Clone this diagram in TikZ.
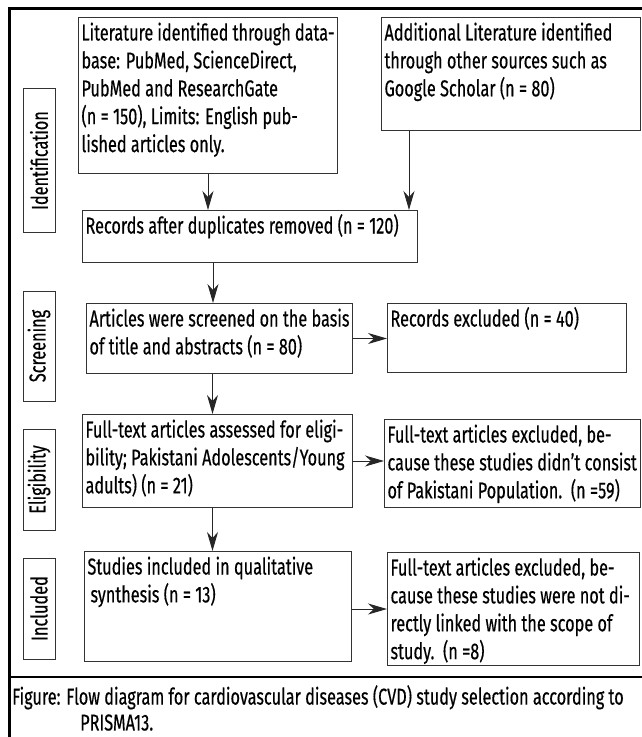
\documentclass[tikz,border=0pt]{standalone}
\usepackage{fontspec}
\setmainfont[FakeStretch=0.71, FakeBold=0.4]{Fira Sans}
\usetikzlibrary{arrows.meta, positioning}

% top aligned text inside a fixed box
\newcommand{\cell}[3]{\parbox[t][#2][t]{#1}{\raggedright\rule{0pt}{20bp}#3}}

\begin{document}
\begin{tikzpicture}[x=1bp, y=-1bp,
  every node/.style={font=\fontsize{23}{28}\selectfont},
  box/.style={draw=black!80, line width=1bp, anchor=north west, inner xsep=3bp, inner ysep=3bp},
  stage/.style={draw=black!80, line width=1bp, rotate=90, minimum height=32bp, inner sep=0pt},
  arr/.style={-{Stealth[length=19bp, width=11bp, inset=6bp]}, line width=1bp, black!85}]

\useasboundingbox (0,0) rectangle (642,737);

% Frame
\draw[line width=3bp] (9,745) -- (9,9) -- (650,9);
\draw[line width=1.5bp] (9,677) -- (650,677);

% Stages
\node[stage, minimum width=143bp] (idf) at (39,160.5) {Identification};
\node[stage, minimum width=110bp] (scr) at (39,346) {Screening};
\node[stage, minimum width=101bp] (elg) at (39,479.5) {Eligibility};
\node[stage, minimum width=101bp] (inc) at (39,608.5) {Included};

% Boxes
\node[box] (A) at (78,17) {\cell{253bp}{150bp}{Literature identified through data-\\ base: PubMed, ScienceDirect,\\ PubMed and ResearchGate\\ (n = 150), Limits: English pub-\\ lished articles only.}};
\node[box] (B) at (381,17) {\cell{253bp}{107bp}{Additional Literature identified\\ through other sources such as\\ Google Scholar (n = 80)}};
\node[box] (C) at (82,210) {\cell{329bp}{46bp}{Records after duplicates removed (n = 120)}};
\node[box] (D) at (86,303) {\cell{260bp}{64bp}{Articles were screened on the basis\\ of title and abstracts (n = 80)}};
\node[box] (E) at (387,303) {\cell{233bp}{63bp}{Records excluded (n = 40)}};
\node[box] (F) at (82,414) {\cell{264bp}{87bp}{Full-text articles assessed for eligi-\\ bility; Pakistani Adolescents/Young\\ adults) (n = 21)}};
\node[box] (G) at (384,419) {\cell{250bp}{82bp}{Full-text articles excluded, be-\\ cause these studies didn’t consist\\ of Pakistani Population.~~(n =59)}};
\node[box] (H) at (84,551) {\cell{261bp}{104bp}{Studies included in qualitative\\ \hspace*{3bp}synthesis (n = 13)}};
\node[box] (I) at (387,552) {\cell{246bp}{107bp}{Full-text articles excluded, be-\\ cause these studies were not di-\\ rectly linked with the scope of\\ study.~~(n =8)}};

% Arrows
\draw[arr] (A.south) -- (A.south |- C.north);
\draw[arr] ([xshift=28bp]B.south west) -- ([xshift=28bp]B.south west |- C.north);
\draw[arr] ([xshift=-37bp]C.south) -- ([xshift=-37bp]C.south |- D.north);
\draw[arr] ([xshift=-7bp]D.south) -- ([xshift=-7bp]D.south |- F.north);
\draw[arr] ([xshift=-5bp]F.south) -- ([xshift=-5bp]F.south |- H.north);
\draw[arr] (D.east) -- (D.east -| E.west);
\draw[arr] (F.east) -- (F.east -| G.west);
\draw[arr] (I.west -| H.east) -- (I.west);

% Caption
\node[anchor=north west, align=left, inner sep=0pt] (cap) at (12,685) {Figure: Flow diagram for cardiovascular diseases (CVD) study selection according to\\[-2bp] \hspace*{68bp}PRISMA13.};

\end{tikzpicture}
\end{document}
